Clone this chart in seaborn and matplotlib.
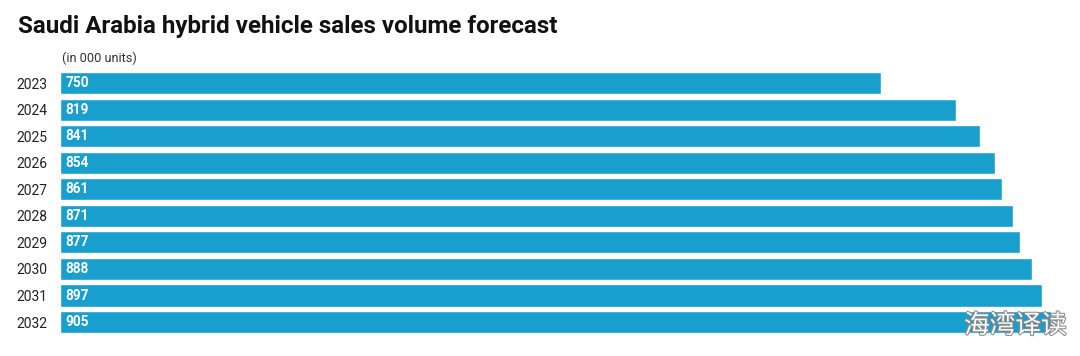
import matplotlib
matplotlib.use("Agg")
import matplotlib.pyplot as plt
import matplotlib.patheffects as pe
import pandas as pd
import seaborn as sns

# Data
years = ["2023", "2024", "2025", "2026", "2027", "2028", "2029", "2030", "2031", "2032"]
volumes = [750, 819, 841, 854, 861, 871, 877, 888, 897, 905]

sns.set_theme(style="white")
plt.rcParams["font.family"] = ["Roboto", "Noto Sans CJK SC", "DejaVu Sans"]

df = pd.DataFrame({"year": years, "volume": volumes})

fig = plt.figure(figsize=(10.8, 3.56), dpi=100)
ax = fig.add_axes([60 / 1080, 0.058, (1056 - 60) / 1080, 0.746])

sns.barplot(data=df, x="volume", y="year", color="#189fcd", saturation=1,
            width=0.83, ax=ax)
ax.set_xlim(0, 910)
ax.set_ylim(9.5, -0.5)

# value labels inside bars
for i, v in enumerate(volumes):
    ax.text(5, i, str(v), color="white", fontsize=9.8, fontweight="bold",
            va="center", ha="left")

ax.set_xlabel("")
ax.set_ylabel("")
ax.set_xticks([])
ax.tick_params(axis="y", length=0, pad=9, labelsize=10, labelcolor="#222222")
for s in ax.spines.values():
    s.set_visible(False)

fig.text(18 / 1080, 1 - 26 / 356, "Saudi Arabia hybrid vehicle sales volume forecast",
         fontsize=17.4, fontweight="bold", va="center", ha="left", color="#111111")
fig.text(62 / 1080, 1 - 58 / 356, "(in 000 units)", fontsize=9.2, va="center",
         ha="left", color="#333333")

# watermark
fig.text(1067 / 1080, 1 - 326 / 356, "海湾译读", fontsize=18.5, color="white",
         ha="right", va="center", family=["Noto Sans CJK SC", "DejaVu Sans"],
         path_effects=[pe.withStroke(linewidth=1.5, foreground="#888888")])

fig.savefig("out.png", dpi=100)
